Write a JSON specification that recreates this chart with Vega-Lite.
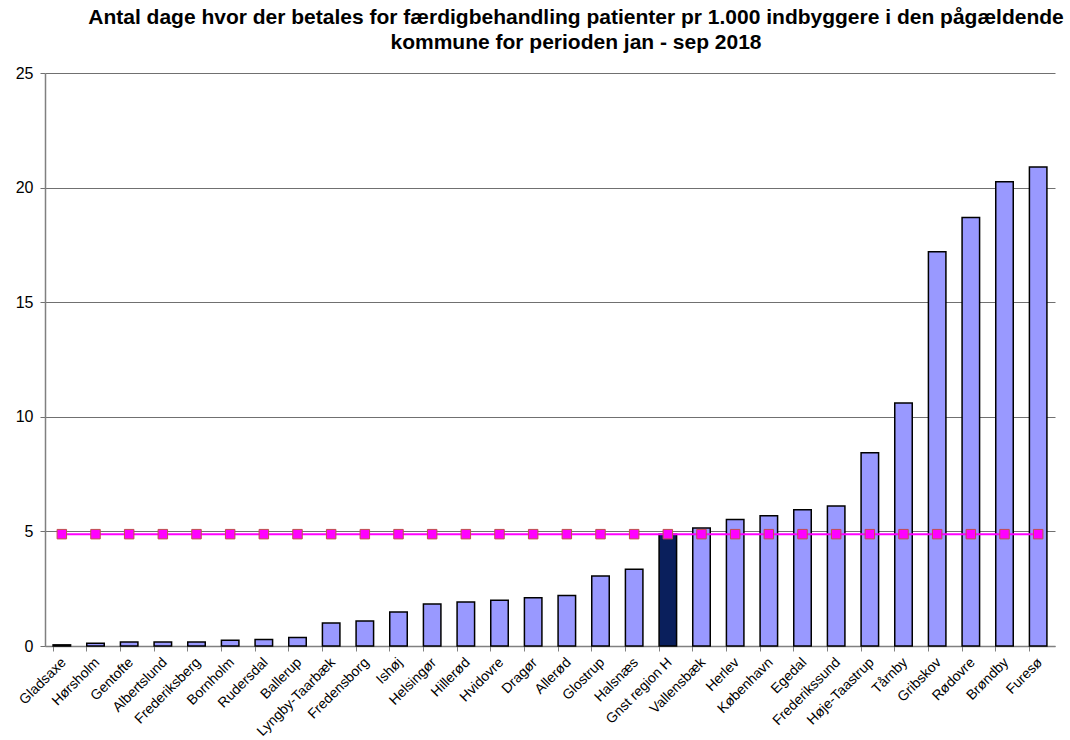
{
  "$schema": "https://vega.github.io/schema/vega-lite/v6.json",
  "autosize": "none",
  "width": 1010,
  "height": 573,
  "padding": {"left": 45, "top": 73, "right": 15, "bottom": 94},
  "background": "white",
  "title": {
    "text": ["Antal dage hvor der betales for færdigbehandling patienter pr 1.000 indbyggere i den pågældende", "kommune for perioden jan - sep 2018"],
    "font": "Liberation Sans",
    "fontSize": 21,
    "fontWeight": "bold",
    "color": "#000000",
    "anchor": "middle",
    "dx": 26,
    "lineHeight": 25,
    "offset": 12
  },
  "config": {
    "view": {"stroke": null},
    "axis": {"labelFont": "Liberation Sans", "labelColor": "#000000"}
  },
  "data": {
    "values": [
      {"kommune": "Gladsaxe", "dage": 0.05, "gnst": 4.88},
      {"kommune": "Hørsholm", "dage": 0.12, "gnst": 4.88},
      {"kommune": "Gentofte", "dage": 0.17, "gnst": 4.88},
      {"kommune": "Albertslund", "dage": 0.17, "gnst": 4.88},
      {"kommune": "Frederiksberg", "dage": 0.17, "gnst": 4.88},
      {"kommune": "Bornholm", "dage": 0.25, "gnst": 4.88},
      {"kommune": "Rudersdal", "dage": 0.28, "gnst": 4.88},
      {"kommune": "Ballerup", "dage": 0.37, "gnst": 4.88},
      {"kommune": "Lyngby-Taarbæk", "dage": 1.0, "gnst": 4.88},
      {"kommune": "Fredensborg", "dage": 1.09, "gnst": 4.88},
      {"kommune": "Ishøj", "dage": 1.48, "gnst": 4.88},
      {"kommune": "Helsingør", "dage": 1.83, "gnst": 4.88},
      {"kommune": "Hillerød", "dage": 1.92, "gnst": 4.88},
      {"kommune": "Hvidovre", "dage": 2.0, "gnst": 4.88},
      {"kommune": "Dragør", "dage": 2.1, "gnst": 4.88},
      {"kommune": "Allerød", "dage": 2.2, "gnst": 4.88},
      {"kommune": "Glostrup", "dage": 3.05, "gnst": 4.88},
      {"kommune": "Halsnæs", "dage": 3.35, "gnst": 4.88},
      {"kommune": "Gnst region H", "dage": 4.88, "gnst": 4.88},
      {"kommune": "Vallensbæk", "dage": 5.15, "gnst": 4.88},
      {"kommune": "Herlev", "dage": 5.52, "gnst": 4.88},
      {"kommune": "København", "dage": 5.68, "gnst": 4.88},
      {"kommune": "Egedal", "dage": 5.94, "gnst": 4.88},
      {"kommune": "Frederikssund", "dage": 6.11, "gnst": 4.88},
      {"kommune": "Høje-Taastrup", "dage": 8.43, "gnst": 4.88},
      {"kommune": "Tårnby", "dage": 10.6, "gnst": 4.88},
      {"kommune": "Gribskov", "dage": 17.2, "gnst": 4.88},
      {"kommune": "Rødovre", "dage": 18.7, "gnst": 4.88},
      {"kommune": "Brøndby", "dage": 20.25, "gnst": 4.88},
      {"kommune": "Furesø", "dage": 20.9, "gnst": 4.88}
    ]
  },
  "encoding": {
    "x": {
      "field": "kommune",
      "type": "nominal",
      "sort": null,
      "scale": {"paddingInner": 0.48, "paddingOuter": 0.24},
      "axis": {
        "title": null,
        "labelAngle": -45,
        "labelAlign": "right",
        "labelBaseline": "middle",
        "labelFontSize": 14,
        "labelPadding": 9,
        "bandPosition": 0,
        "labelOffset": 2,
        "tickColor": "#808080",
        "tickSize": 5,
        "domainColor": "#808080",
        "domainWidth": 1.5,
        "grid": false
      }
    }
  },
  "layer": [
    {
      "mark": {"type": "bar", "stroke": "#000000", "strokeWidth": 1.5},
      "encoding": {
        "y": {
          "field": "dage",
          "type": "quantitative",
          "scale": {"domain": [0, 25], "nice": false},
          "axis": {
            "title": null,
            "values": [0, 5, 10, 15, 20, 25],
            "labelFontSize": 16,
            "labelPadding": 7,
            "grid": true,
            "gridColor": "#707070",
            "gridWidth": 1,
            "tickColor": "#707070",
            "tickSize": 5,
            "domainColor": "#808080",
            "domainWidth": 1.5
          }
        },
        "color": {
          "condition": {"test": "datum.kommune === 'Gnst region H'", "value": "#0a1f5c"},
          "value": "#9999ff"
        }
      }
    },
    {
      "mark": {"type": "line", "color": "#ff00ff", "strokeWidth": 2},
      "encoding": {
        "y": {"field": "gnst", "type": "quantitative"}
      }
    },
    {
      "mark": {"type": "point", "shape": "square", "filled": true, "fill": "#ff00ff", "stroke": "#c0504d", "strokeWidth": 1, "size": 90, "opacity": 1},
      "encoding": {
        "y": {"field": "gnst", "type": "quantitative"}
      }
    }
  ]
}
